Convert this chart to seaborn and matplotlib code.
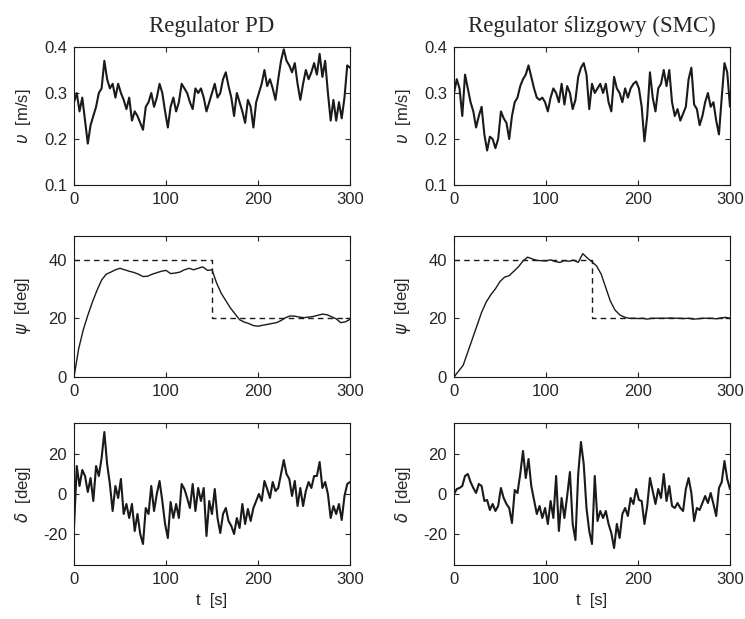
import numpy as np
import matplotlib
matplotlib.use('Agg')
import matplotlib.pyplot as plt
import seaborn as sns

# sampling grids
t_fast = np.linspace(0, 300, 101)   # 3 s steps for the noisy signals
t_slow = np.linspace(0, 300, 61)    # 5 s steps for the heading

# surge speed u [m/s]
u_pd = [0.28, 0.30, 0.26, 0.29, 0.24, 0.19, 0.23, 0.25, 0.27, 0.30,
        0.31, 0.37, 0.33, 0.31, 0.32, 0.29, 0.32, 0.30, 0.285, 0.265,
        0.29, 0.24, 0.26, 0.25, 0.235, 0.22, 0.27, 0.28, 0.30, 0.27,
        0.29, 0.32, 0.30, 0.26, 0.225, 0.27, 0.29, 0.26, 0.28, 0.32,
        0.31, 0.30, 0.28, 0.265, 0.31, 0.30, 0.31, 0.29, 0.26, 0.28,
        0.30, 0.32, 0.29, 0.30, 0.33, 0.345, 0.315, 0.29, 0.25, 0.30,
        0.28, 0.26, 0.235, 0.285, 0.27, 0.225, 0.28, 0.30, 0.32, 0.35,
        0.315, 0.33, 0.31, 0.285, 0.33, 0.37, 0.395, 0.37, 0.36, 0.345,
        0.365, 0.32, 0.285, 0.32, 0.35, 0.33, 0.345, 0.365, 0.34, 0.385,
        0.335, 0.37, 0.30, 0.24, 0.285, 0.24, 0.28, 0.245, 0.29, 0.36,
        0.355]
u_smc = [0.30, 0.33, 0.31, 0.25, 0.34, 0.31, 0.28, 0.26, 0.225, 0.25,
         0.27, 0.21, 0.175, 0.205, 0.20, 0.18, 0.20, 0.26, 0.245, 0.235,
         0.20, 0.25, 0.28, 0.29, 0.315, 0.33, 0.34, 0.36, 0.335, 0.31,
         0.29, 0.285, 0.29, 0.28, 0.26, 0.29, 0.31, 0.30, 0.28, 0.32,
         0.275, 0.315, 0.30, 0.265, 0.285, 0.335, 0.355, 0.365, 0.34, 0.265,
         0.32, 0.30, 0.31, 0.32, 0.30, 0.32, 0.28, 0.26, 0.335, 0.31,
         0.30, 0.28, 0.31, 0.29, 0.31, 0.32, 0.325, 0.31, 0.27, 0.195,
         0.25, 0.345, 0.29, 0.26, 0.31, 0.32, 0.35, 0.315, 0.35, 0.28,
         0.25, 0.265, 0.24, 0.255, 0.27, 0.33, 0.355, 0.275, 0.265, 0.23,
         0.25, 0.28, 0.30, 0.27, 0.28, 0.24, 0.21, 0.29, 0.365, 0.345,
         0.27]

# heading psi [deg] and its set point
psi_pd = [0, 9.5, 16, 21, 25.5, 29.5, 33, 35, 35.7, 36.5,
          37, 36.5, 36, 35.6, 35, 34.2, 34.3, 35, 35.5, 36,
          36.3, 35.2, 35.4, 35.7, 36.5, 37, 36.5, 37, 37.5, 36.3,
          36.5, 32, 28.5, 26, 23.5, 21.5, 19.5, 18.7, 18.2, 17.5,
          17.3, 17.6, 17.9, 18.2, 18.5, 19.2, 20.2, 20.8, 20.7, 20.4,
          20.2, 20.4, 20.6, 21, 21.4, 21.2, 20.5, 19.8, 18.5, 18.8,
          19.6]
psi_smc = [0, 2, 4, 8.5, 13, 17.5, 22, 25.5, 28, 30,
           32.5, 34, 34.5, 36, 37.5, 39.5, 40.8, 40.2, 39.7, 39.6,
           39.5, 39.9, 39.3, 39, 39.6, 39.4, 39.8, 39, 42, 40.5,
           39.2, 37.8, 35, 30.4, 25.8, 22.8, 21.2, 20.4, 20, 20,
           19.9, 20, 19.7, 20, 20, 20, 20, 20.1, 20, 20,
           19.9, 20, 19.7, 19.8, 20, 20, 20, 19.8, 20.1, 20.3,
           20]
ref_time = [0, 150, 300]
ref_value = [40, 20, 20]

# rudder angle delta [deg]
delta_pd = [-17, 14, 4, 12, 9, 1, 8, -3.5, 14, 9,
            18, 31, 15, 5, -8.5, 4, -2, 7.5, -10, -5,
            -12, -5, -18.5, -10, -20, -25, -7, -10, 4, -8.5,
            0, 6.5, -3.5, -15, -22, -4, -12, -5, -12, 5,
            2.5, -2, -7, 5, -8.5, 3, -3.5, 3, -21, -3.5,
            -10, 2.5, -12, -19.5, -10, -7, -13.5, -16, -20, -12,
            -17, -5, -15, -7.5, -13.5, -7, -3.5, 0, -3.5, 6.5,
            2.5, -2, 6, 1.5, 3, 10, 17, 10, 7.5, -1,
            6.5, -6, 3, -6, 1.5, 6, 3, 9, 9, 16,
            3, 6, 0, -12, -6, -10, -5, -13, -1, 5,
            6]
delta_smc = [0, 2.5, 3, 4, 9, 10, 6, 3, 0.5, 5,
             4, -3.5, -3, -8, -5, -8.5, -6, 3, -2, -5,
             -7, -14.5, 2, 0.5, 10, 21.5, 8, 17.5, 4, -3,
             -10, -6, -12, -7, -15, -3.5, -12, 9, -18.5, -2,
             -12, -1, 11, -15, -23, 10, 26, 15, -7, -18.5,
             -25, 9, -13.5, -8.5, -12, -8.5, -15, -19.5, -27, -15,
             -22, -10, -7, -11, -2, -5, 2.5, -3, -3.5, -15,
             -6, 8, 1.5, -5, 2.5, -2, 10, -3.5, 4, -6,
             -7, -4.5, -7, -8.5, 2.5, 8, 0.5, -13.5, -7, -8,
             -4.5, -1, -4.5, 0.5, -5, -11, 3, 6, 16.5, 7.5,
             2.5]

titles = ["Regulator PD", "Regulator ślizgowy (SMC)"]

sns.set_theme(style="ticks")
plt.rcParams['font.family'] = ['Liberation Sans', 'DejaVu Sans']
plt.rcParams['axes.linewidth'] = 0.8
plt.rcParams['axes.unicode_minus'] = False
plt.rcParams['mathtext.fontset'] = 'dejavusans'

fig = plt.figure(figsize=(7.45, 6.19), dpi=100)
W, H = 745, 619
col_x = [74, 454]
row_y = [(47, 185), (236, 377), (423, 565)]
axes = []
for r, (top, bot) in enumerate(row_y):
    row = []
    for c, x0 in enumerate(col_x):
        ax = fig.add_axes([x0 / W, 1 - bot / H, 276 / W, (bot - top) / H])
        row.append(ax)
    axes.append(row)

fs = 12
for c, (u, psi, delta) in enumerate([(u_pd, psi_pd, delta_pd),
                                      (u_smc, psi_smc, delta_smc)]):
    ax = axes[0][c]
    sns.lineplot(x=t_fast, y=u, ax=ax, color='k', lw=1.5)
    ax.set_ylim(0.1, 0.4)
    ax.set_yticks([0.1, 0.2, 0.3, 0.4])
    ax.set_ylabel(r'$\upsilon$  [m/s]', fontsize=fs)
    ax.set_title(titles[c], family='Liberation Serif', fontsize=16.5, pad=11)

    ax = axes[1][c]
    sns.lineplot(x=ref_time, y=ref_value, ax=ax, color='k', lw=1.0,
                 drawstyle='steps-post', linestyle=(0, (4, 3)))
    sns.lineplot(x=t_slow, y=psi, ax=ax, color='k', lw=1.0)
    ax.set_ylim(0, 48)
    ax.set_yticks([0, 20, 40])
    ax.set_ylabel(r'$\psi$  [deg]', fontsize=fs)

    ax = axes[2][c]
    sns.lineplot(x=t_fast, y=delta, ax=ax, color='k', lw=1.5)
    ax.set_ylim(-35.5, 35.5)
    ax.set_yticks([-20, 0, 20])
    ax.set_ylabel(r'$\delta$  [deg]', fontsize=fs)
    ax.set_xlabel('t  [s]', fontsize=fs)

for row in axes:
    for ax in row:
        ax.set_xlim(0, 300)
        ax.set_xticks([0, 100, 200, 300])
        ax.tick_params(direction='in', top=True, right=True, length=3.5,
                       width=0.8, labelsize=fs, pad=5)
        for sp in ax.spines.values():
            sp.set_visible(True)
            sp.set_color('k')
        ax.yaxis.set_label_coords(-0.15, 0.5)

fig.savefig('out.png', dpi=100)
